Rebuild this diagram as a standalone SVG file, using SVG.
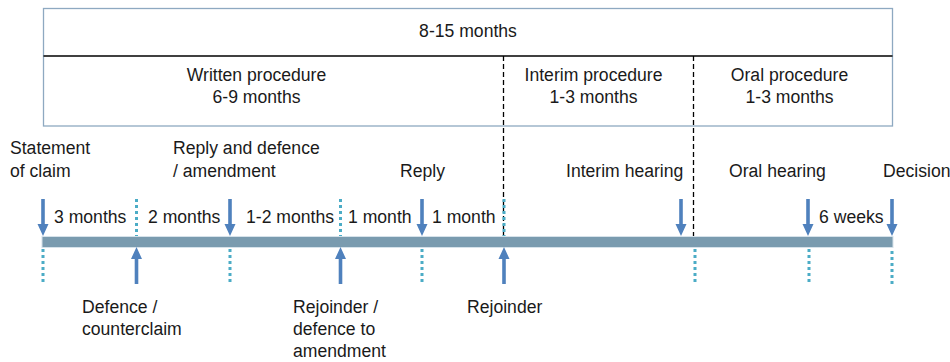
<svg xmlns="http://www.w3.org/2000/svg" width="950" height="362" viewBox="0 0 950 362">
<style>
text{font-family:"Liberation Sans",Arial,sans-serif;font-size:17.6px;fill:#1a1a1a}
.c{text-anchor:middle}
.arr{fill:#4F81BD}
.dot{stroke:#4BACC6;stroke-width:3;stroke-dasharray:3 3;fill:none}
.dash{stroke:#000;stroke-width:1.3;stroke-dasharray:5 3;fill:none}
</style>
<defs>
<path id="down" class="arr" d="M-1.8,-37 H1.8 V-12 H5.5 L0,0 L-5.5,-12 H-1.8 Z"/>
<path id="up" class="arr" d="M-1.8,37 H1.8 V12 H5.5 L0,0 L-5.5,12 H-1.8 Z"/>
</defs>
<g id="header">
<rect x="43.5" y="8.5" width="849" height="117.5" fill="#fff" stroke="#8EA9C1" stroke-width="1.3"/>
<line x1="43.5" y1="56" x2="892.5" y2="56" stroke="#000" stroke-width="1.5"/>
<text class="c" x="468" y="37">8-15 months</text>
</g>
<g id="written"><text class="c" x="256.5" y="81">Written procedure</text><text class="c" x="256.5" y="103">6-9 months</text></g>
<g id="interim"><text class="c" x="593.5" y="81">Interim procedure</text><text class="c" x="593.5" y="103">1-3 months</text></g>
<g id="oral"><text class="c" x="789.5" y="81">Oral procedure</text><text class="c" x="789.5" y="103">1-3 months</text></g>
<g id="phase-dividers">
<line class="dash" x1="503.5" y1="56" x2="503.5" y2="237"/>
<line class="dash" x1="693.5" y1="56" x2="693.5" y2="237"/>
</g>
<g id="timeline">
<rect x="42" y="236.5" width="851" height="11" fill="#7A9BAF" stroke="#D6E2EA" stroke-width="1"/>
</g>
<g id="connectors">
<line class="dot" x1="136.5" y1="199" x2="136.5" y2="236"/>
<line class="dot" x1="340.5" y1="199" x2="340.5" y2="236"/>
<line class="dot" x1="504" y1="199" x2="504" y2="236"/>
<line class="dot" x1="43" y1="249" x2="43" y2="284"/>
<line class="dot" x1="230" y1="249" x2="230" y2="284"/>
<line class="dot" x1="422" y1="249" x2="422" y2="284"/>
<line class="dot" x1="695" y1="249" x2="695" y2="284"/>
<line class="dot" x1="809" y1="249" x2="809" y2="284"/>
<line class="dot" x1="892" y1="251" x2="892" y2="286"/>
</g>
<g id="statement-of-claim"><use href="#down" x="43" y="236"/><text x="10" y="154">Statement</text><text x="10" y="177">of claim</text></g>
<g id="defence"><use href="#up" x="136.5" y="247"/><text x="82" y="313">Defence /</text><text x="82" y="335">counterclaim</text></g>
<g id="reply-defence"><use href="#down" x="230" y="236"/><text x="173" y="154">Reply and defence</text><text x="173" y="177">/ amendment</text></g>
<g id="rejoinder-defence"><use href="#up" x="340.5" y="247"/><text x="293" y="313">Rejoinder /</text><text x="293" y="335">defence to</text><text x="293" y="357">amendment</text></g>
<g id="reply"><use href="#down" x="422" y="236"/><text x="400" y="177">Reply</text></g>
<g id="rejoinder"><use href="#up" x="504" y="247"/><text x="467" y="313">Rejoinder</text></g>
<g id="interim-hearing"><use href="#down" x="681" y="236"/><text x="566" y="177">Interim hearing</text></g>
<g id="oral-hearing"><use href="#down" x="808" y="236"/><text x="729" y="177">Oral hearing</text></g>
<g id="decision"><use href="#down" x="892" y="236"/><text x="883" y="177">Decision</text></g>
<g id="durations">
<text x="54" y="223">3 months</text>
<text x="148" y="223">2 months</text>
<text x="246" y="223">1-2 months</text>
<text x="348" y="223">1 month</text>
<text x="432" y="223">1 month</text>
<text x="819" y="223">6 weeks</text>
</g>
</svg>
